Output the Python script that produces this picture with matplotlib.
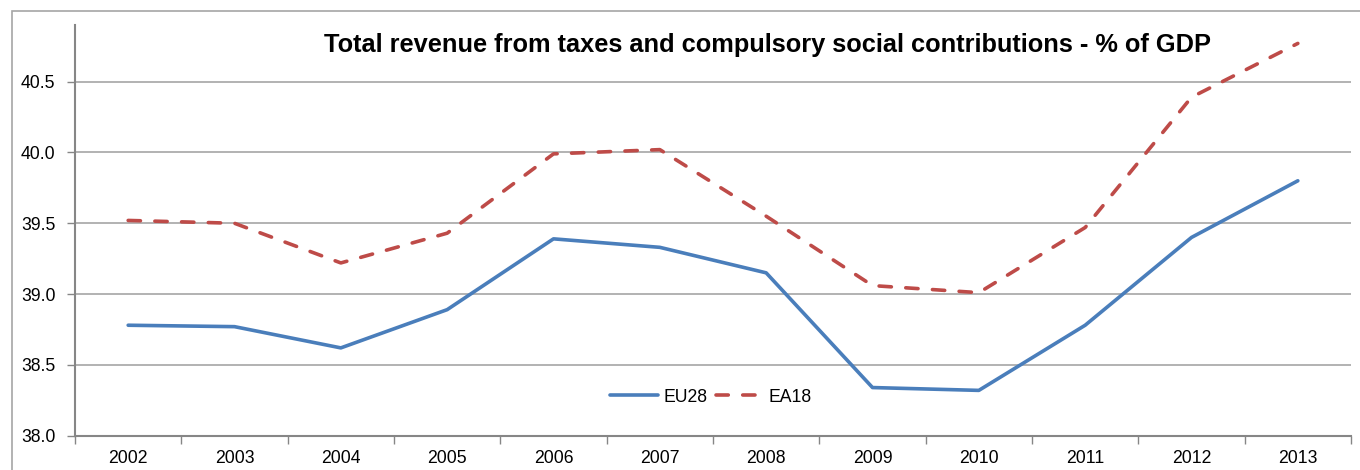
import matplotlib.pyplot as plt
from matplotlib.patches import Rectangle


YEARS = ["2002", "2003", "2004", "2005", "2006", "2007",
         "2008", "2009", "2010", "2011", "2012", "2013"]

EU28 = [38.78, 38.77, 38.62, 38.89, 39.39, 39.33,
        39.15, 38.34, 38.32, 38.78, 39.40, 39.80]

EA18 = [39.52, 39.50, 39.22, 39.43, 39.99, 40.02,
        39.55, 39.06, 39.01, 39.47, 40.39, 40.77]

Y_TICKS = [38.0, 38.5, 39.0, 39.5, 40.0, 40.5]

TITLE = "Total revenue from taxes and compulsory social contributions - % of GDP"

BLUE = "#4A7EBB"
RED = "#BE4B48"
AXIS_GREY = "#868686"
GRID_GREY = "#A6A6A6"


def main() -> None:
    plt.rcParams["font.family"] = ["Liberation Sans", "DejaVu Sans"]

    fig = plt.figure(figsize=(13.6, 4.7), dpi=100)
    ax = fig.add_axes([75 / 1360, 34.3 / 470, 1276 / 1360, 410.7 / 470])

    # outer chart border like the spreadsheet frame
    fig.patches.append(
        Rectangle(
            (12 / 1360, -0.2), 1.2, 0.2 + (1 - 11 / 470),
            transform=fig.transFigure, fill=False,
            edgecolor=GRID_GREY, linewidth=1.2, zorder=0,
        )
    )

    x = list(range(len(YEARS)))

    ax.plot(x, EU28, color=BLUE, linewidth=2.6, label="EU28",
            solid_capstyle="round", solid_joinstyle="round", zorder=3)
    (ea_line,) = ax.plot(x, EA18, color=RED, linewidth=2.6, label="EA18",
                         dash_capstyle="round", zorder=3)
    ea_line.set_dashes([3.4, 4.0])

    ax.set_xlim(-0.5, len(YEARS) - 0.5)
    ax.set_ylim(38.0, 40.9)

    ax.set_xticks(x)
    ax.set_xticklabels(YEARS)
    ax.set_xticks([i - 0.5 for i in range(len(YEARS) + 1)], minor=True)
    ax.tick_params(axis="x", which="major", length=0, pad=10, labelsize=12.7)
    ax.tick_params(axis="x", which="minor", length=6, width=1,
                   color=AXIS_GREY, direction="out")

    ax.set_yticks(Y_TICKS)
    ax.set_yticklabels([f"{v:.1f}" for v in Y_TICKS])
    ax.tick_params(axis="y", length=6, width=1, color=AXIS_GREY,
                   direction="out", pad=8, labelsize=12.7)

    ax.grid(axis="y", color=GRID_GREY, linewidth=1.2)
    ax.set_axisbelow(True)

    for side in ["top", "right"]:
        ax.spines[side].set_visible(False)
    for side in ["left", "bottom"]:
        ax.spines[side].set_color(AXIS_GREY)
        ax.spines[side].set_linewidth(1.5)

    fig.text(767 / 1360, 1 - 52 / 470, TITLE, ha="center", va="baseline",
             fontsize=18.3, fontweight="bold")

    ax.legend(
        loc="center",
        bbox_to_anchor=((711 - 75) / 1276, (435.7 - 397) / 410.7),
        ncol=2, frameon=False, fontsize=12.7,
        handlelength=2.7, handletextpad=0.3, columnspacing=0.5,
    )

    fig.savefig("out.png", dpi=100)
    plt.close(fig)


if __name__ == "__main__":
    main()
